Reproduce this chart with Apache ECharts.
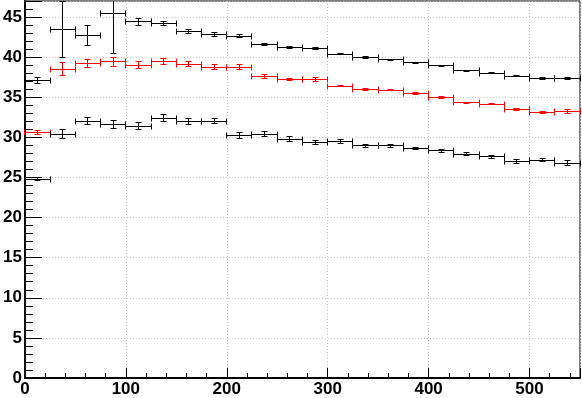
<!DOCTYPE html>
<html>
<head>
<meta charset="utf-8">
<script src="https://cdn.jsdelivr.net/npm/echarts@6/dist/echarts.min.js"></script>
<style>
html,body{margin:0;padding:0;background:#fff;}
#chart{width:582px;height:398px;}
</style>
</head>
<body>
<div id="chart"></div>
<script>
// Bin lower edges (bin width 25)
var binLow = [0,25,50,75,100,125,150,175,200,225,250,275,300,325,350,375,400,425,450,475,500,525];
var binWidth = 25;

// Upper black series
var topVals = [37.1,43.4,42.65,45.5,44.4,44.2,43.25,42.8,42.6,41.6,41.2,41.1,40.35,39.95,39.65,39.3,38.95,38.3,38.0,37.6,37.37,37.37];
var topErrs = [0.4,3.5,1.25,5.0,0.45,0.3,0.25,0.25,0.2,0.1,0.15,0.1,0.08,0.08,0.08,0.07,0.07,0.07,0.07,0.07,0.1,0.1];

// Middle red series
var midVals = [30.6,38.5,39.2,39.4,39.0,39.45,39.1,38.75,38.75,37.6,37.2,37.25,36.4,36.0,35.9,35.5,35.0,34.3,34.15,33.5,33.1,33.25];
var midErrs = [0.2,0.8,0.45,0.55,0.4,0.4,0.3,0.33,0.3,0.2,0.15,0.25,0.1,0.1,0.1,0.1,0.1,0.07,0.07,0.1,0.1,0.25];

// Lower black series
var lowVals = [24.8,30.4,32.0,31.6,31.4,32.4,31.95,32.0,30.25,30.4,29.75,29.35,29.5,28.95,28.95,28.6,28.3,27.9,27.6,27.0,27.15,26.8];
var lowErrs = [0.2,0.6,0.45,0.5,0.4,0.4,0.35,0.3,0.35,0.3,0.3,0.3,0.25,0.2,0.2,0.15,0.15,0.2,0.2,0.2,0.2,0.35];

// Axis tick labels
var xTicks = [0,100,200,300,400,500];
var yTicks = [0,5,10,15,20,25,30,35,40,45];

function snap(v){ return Math.round(v - 0.5) + 0.5; }

function makeSeries(vals, errs, color){
  var data = binLow.map(function(lo, i){ return [lo, lo + binWidth, vals[i], errs[i]]; });
  return {
    type: 'custom',
    data: data,
    clip: true,
    encode: { x: [0, 1], y: 2 },
    renderItem: function(params, api){
      var x0 = api.value(0), x1 = api.value(1), y = api.value(2), e = api.value(3);
      var cs = params.coordSys;
      var pL = api.coord([x0, y]);
      var pR = api.coord([x1, y]);
      var pT = api.coord([(x0 + x1) / 2, y + e]);
      var pB = api.coord([(x0 + x1) / 2, y - e]);
      var xl = snap(pL[0]), xr = snap(pR[0]), yc = snap(pL[1]);
      var xc = snap((pL[0] + pR[0]) / 2);
      var topClipped = pT[1] < cs.y;
      var yt = Math.max(pT[1], cs.y);
      var yb = pB[1];
      var cap = 3, vcap = 3;
      var st = { stroke: color, lineWidth: 1, fill: null };
      var ch = [
        { type: 'line', shape: { x1: xl, y1: yc, x2: xr, y2: yc }, style: st },
        { type: 'line', shape: { x1: xl, y1: yc - vcap, x2: xl, y2: yc + vcap }, style: st },
        { type: 'line', shape: { x1: xr, y1: yc - vcap, x2: xr, y2: yc + vcap }, style: st },
        { type: 'line', shape: { x1: xc, y1: yt, x2: xc, y2: yb }, style: st },
        { type: 'line', shape: { x1: xc - cap, y1: snap(yb), x2: xc + cap, y2: snap(yb) }, style: st }
      ];
      if (!topClipped) {
        ch.push({ type: 'line', shape: { x1: xc - cap, y1: snap(yt), x2: xc + cap, y2: snap(yt) }, style: st });
      }
      return { type: 'group', children: ch };
    }
  };
}

var chart = echarts.init(document.getElementById('chart'), null, { renderer: 'canvas' });
var labelFont = { fontFamily: 'Liberation Sans', fontWeight: 'bold', fontSize: 17, color: '#000' };

chart.setOption({
  animation: false,
  backgroundColor: '#fff',
  grid: { left: 23, right: 2, top: 1, bottom: 20, show: true, borderColor: '#000', borderWidth: 1, backgroundColor: 'transparent' },
  xAxis: {
    type: 'value', min: 0, max: 550, interval: 100,
    axisLine: { show: true, onZero: false, lineStyle: { color: '#000', width: 2 } },
    axisTick: { show: true, inside: true, length: 10, lineStyle: { color: '#000', width: 1 } },
    minorTick: { show: true, splitNumber: 5, length: 5, lineStyle: { color: '#000', width: 1 } },
    splitLine: { show: true, lineStyle: { color: '#c4c4c4', type: [1, 2], width: 1 } },
    axisLabel: Object.assign({ margin: 3, showMaxLabel: false, formatter: function(v){ return xTicks.indexOf(v) >= 0 ? String(v) : ''; } }, labelFont)
  },
  yAxis: {
    type: 'value', min: 0, max: 47, interval: 5,
    axisLine: { show: true, onZero: false, lineStyle: { color: '#000', width: 2 } },
    axisTick: { show: true, inside: true, length: 17, lineStyle: { color: '#000', width: 1 } },
    minorTick: { show: true, splitNumber: 5, length: 8, lineStyle: { color: '#000', width: 1 } },
    splitLine: { show: true, lineStyle: { color: '#c4c4c4', type: [1, 2], width: 1 } },
    axisLabel: Object.assign({ margin: 3, showMaxLabel: false, formatter: function(v){ return yTicks.indexOf(v) >= 0 ? String(v) : ''; } }, labelFont)
  },
  series: [
    makeSeries(topVals, topErrs, '#000000'),
    makeSeries(midVals, midErrs, '#ff0000'),
    makeSeries(lowVals, lowErrs, '#000000')
  ]
});
</script>
</body>
</html>
